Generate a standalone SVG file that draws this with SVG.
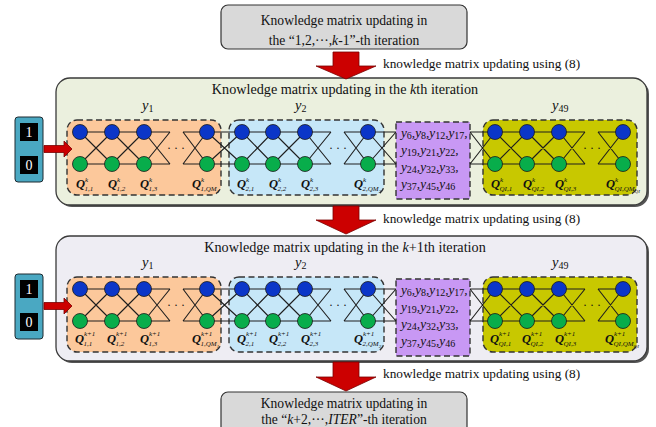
<svg xmlns="http://www.w3.org/2000/svg" width="656" height="427" viewBox="0 0 656 427">
<defs>
<style>
.t{font-family:"Liberation Serif","Times New Roman",serif;fill:#111}
.ti{font-size:13.6px}
.pti{font-size:14.2px}
.lab{font-size:13.3px}
.yl{font-family:"Liberation Serif","Times New Roman",serif;font-style:italic;font-size:14.5px;fill:#111}
.ys{font-style:normal;font-size:10px}
.pt{font-family:"Liberation Serif","Times New Roman",serif;font-style:italic;font-size:13.2px;fill:#111}
.q{font-family:"Liberation Serif","Times New Roman",serif;font-style:italic;font-weight:bold;font-size:12.5px;fill:#111}
.s{font-size:7px;font-weight:normal}
.s2{font-size:5px;font-weight:normal}
.ln{stroke:#1e1e1e;stroke-width:1.1;fill:none}
.bn{fill:#0b36c8;stroke:#1a1a1a;stroke-width:0.8}
.gn{fill:#08ad4b;stroke:#1a1a1a;stroke-width:0.8}
.db{stroke:#333;stroke-width:1.4;stroke-dasharray:6 3.5}
.arr{fill:#cc0000;stroke:#7a0000;stroke-width:0.8}
.box{fill:#d9d9d9;stroke:#333;stroke-width:1.2}
.dots{font-family:"Liberation Serif",serif;font-size:12px;fill:#111}
.w{font-family:"Liberation Serif","Times New Roman",serif;font-size:14px;fill:#fff}
</style>
</defs>

<g id="prevIter">
<rect class="box" x="221" y="5" width="246" height="44" rx="7"/>
<text class="t ti" x="344" y="25" text-anchor="middle">Knowledge matrix updating in</text>
<text class="t ti" x="344" y="45" text-anchor="middle">the “1,2,···,<tspan font-style="italic">k</tspan>-1”-th iteration</text>
</g>

<g id="panel1">
<rect x="58" y="80" width="591" height="127" rx="14" fill="#555"/>
<rect x="56" y="78" width="591" height="127" rx="14" fill="#ebf0de" stroke="#3a3a3a" stroke-width="1.3"/>
<text class="t pti" x="345" y="94" text-anchor="middle">Knowledge matrix updating in the <tspan font-style="italic">k</tspan>th iteration</text>
</g>

<g id="panel2">
<rect x="58" y="238" width="591" height="125" rx="14" fill="#555"/>
<rect x="56" y="236" width="591" height="125" rx="14" fill="#eeedf3" stroke="#3a3a3a" stroke-width="1.3"/>
<text class="t pti" x="345" y="252" text-anchor="middle">Knowledge matrix updating in the <tspan font-style="italic">k</tspan>+1th iteration</text>
</g>

<g id="k">
<g id="in1">
<rect x="15" y="117" width="28" height="65" rx="3" fill="#4aa8c2" stroke="#1e2a30" stroke-width="1"/>
<rect x="20" y="123" width="18" height="18" fill="#000"/>
<rect x="20" y="156" width="18" height="18" fill="#000"/>
<text class="w" x="29" y="137" text-anchor="middle">1</text>
<text class="w" x="29" y="170" text-anchor="middle">0</text>
</g>
<g id="y1box">
<rect class="db" x="67" y="120" width="154" height="75" rx="10" fill="#fcc89b"/>
<text class="yl" x="142" y="110">y<tspan class="ys" dy="2">1</tspan></text>
</g>
<g id="y2box">
<rect class="db" x="229" y="120" width="155" height="75" rx="10" fill="#c6e7f8"/>
<text class="yl" x="295" y="110">y<tspan class="ys" dy="2">2</tspan></text>
</g>
<g id="ymid">
<rect class="db" x="396" y="122" width="74" height="77" fill="#c898f4"/>
<text class="pt" x="401" y="137">y<tspan class="ys" dy="2">6</tspan><tspan dy="-2">,y</tspan><tspan class="ys" dy="2">8</tspan><tspan dy="-2">,y</tspan><tspan class="ys" dy="2">12</tspan><tspan dy="-2">,y</tspan><tspan class="ys" dy="2">17</tspan><tspan dy="-2">,</tspan></text>
<text class="pt" x="401" y="154">y<tspan class="ys" dy="2">19</tspan><tspan dy="-2">,y</tspan><tspan class="ys" dy="2">21</tspan><tspan dy="-2">,y</tspan><tspan class="ys" dy="2">22</tspan><tspan dy="-2">,</tspan></text>
<text class="pt" x="401" y="171">y<tspan class="ys" dy="2">24</tspan><tspan dy="-2">,y</tspan><tspan class="ys" dy="2">32</tspan><tspan dy="-2">,y</tspan><tspan class="ys" dy="2">33</tspan><tspan dy="-2">,</tspan></text>
<text class="pt" x="401" y="188">y<tspan class="ys" dy="2">37</tspan><tspan dy="-2">,y</tspan><tspan class="ys" dy="2">45</tspan><tspan dy="-2">,y</tspan><tspan class="ys" dy="2">46</tspan></text>
</g>
<g id="y49box">
<rect class="db" x="483" y="120" width="154" height="75" rx="10" fill="#c8c800"/>
<text class="yl" x="552" y="110">y<tspan class="ys" dy="2">49</tspan></text>
</g>
<g id="conn1">
<path class="ln" d="M80 132H170M80 164H170M183 132H242M183 164H242M242 132H331M242 164H331M344 132H396M344 164H396M470 132H585M470 164H585M598 132H623M598 164H623
M80 132L112 164M80 164L112 132M112 132L144 164M112 164L144 132M144 132L170 164M144 164L170 132M183 132L207 164M183 164L207 132M207 132L242 164M207 164L242 132M242 132L273 164M242 164L273 132M273 132L305 164M273 164L305 132M305 132L331 164M305 164L331 132M344 132L368 164M344 164L368 132M368 132L396 164M368 164L396 132M470 132L495 164M470 164L495 132M495 132L527 164M495 164L527 132M527 132L559 164M527 164L559 132M559 132L585 164M559 164L585 132M598 132L623 164M598 164L623 132"/>
<path class="arr" d="M44 145.5H64V141L72 149L64 157V152.5H44Z"/>
</g>
<g id="nodes1">
<text class="dots" x="176" y="152" text-anchor="middle">· · ·</text>
<text class="dots" x="338" y="152" text-anchor="middle">· · ·</text>
<text class="dots" x="592" y="152" text-anchor="middle">· · ·</text>
<circle class="bn" cx="80" cy="132" r="7.5"/><circle class="gn" cx="80" cy="164" r="7.5"/>
<circle class="bn" cx="112" cy="132" r="7.5"/><circle class="gn" cx="112" cy="164" r="7.5"/>
<circle class="bn" cx="144" cy="132" r="7.5"/><circle class="gn" cx="144" cy="164" r="7.5"/>
<circle class="bn" cx="207" cy="132" r="7.5"/><circle class="gn" cx="207" cy="164" r="7.5"/>
<circle class="bn" cx="242" cy="132" r="7.5"/><circle class="gn" cx="242" cy="164" r="7.5"/>
<circle class="bn" cx="273" cy="132" r="7.5"/><circle class="gn" cx="273" cy="164" r="7.5"/>
<circle class="bn" cx="305" cy="132" r="7.5"/><circle class="gn" cx="305" cy="164" r="7.5"/>
<circle class="bn" cx="368" cy="132" r="7.5"/><circle class="gn" cx="368" cy="164" r="7.5"/>
<circle class="bn" cx="495" cy="132" r="7.5"/><circle class="gn" cx="495" cy="164" r="7.5"/>
<circle class="bn" cx="527" cy="132" r="7.5"/><circle class="gn" cx="527" cy="164" r="7.5"/>
<circle class="bn" cx="559" cy="132" r="7.5"/><circle class="gn" cx="559" cy="164" r="7.5"/>
<circle class="bn" cx="623" cy="132" r="7.5"/><circle class="gn" cx="623" cy="164" r="7.5"/>
</g>
<g id="qlabels1">
<text class="q" x="76" y="188">Q<tspan class="s" x="85" y="182">k</tspan><tspan class="s" x="84.5" y="191">1,1</tspan></text>
<text class="q" x="108" y="188">Q<tspan class="s" x="117" y="182">k</tspan><tspan class="s" x="116.5" y="191">1,2</tspan></text>
<text class="q" x="140" y="188">Q<tspan class="s" x="149" y="182">k</tspan><tspan class="s" x="148.5" y="191">1,3</tspan></text>
<text class="q" x="192" y="188">Q<tspan class="s" x="201" y="182">k</tspan><tspan class="s" x="200.5" y="191">1,QM</tspan><tspan class="s2" y="193">1</tspan></text>
<text class="q" x="237" y="188">Q<tspan class="s" x="246" y="182">k</tspan><tspan class="s" x="245.5" y="191">2,1</tspan></text>
<text class="q" x="269" y="188">Q<tspan class="s" x="278" y="182">k</tspan><tspan class="s" x="277.5" y="191">2,2</tspan></text>
<text class="q" x="301" y="188">Q<tspan class="s" x="310" y="182">k</tspan><tspan class="s" x="309.5" y="191">2,3</tspan></text>
<text class="q" x="354" y="188">Q<tspan class="s" x="363" y="182">k</tspan><tspan class="s" x="362.5" y="191">2,QM</tspan><tspan class="s2" y="193">2</tspan></text>
<text class="q" x="491" y="188">Q<tspan class="s" x="500" y="182">k</tspan><tspan class="s" x="499.5" y="191">QI,1</tspan></text>
<text class="q" x="523" y="188">Q<tspan class="s" x="532" y="182">k</tspan><tspan class="s" x="531.5" y="191">QI,2</tspan></text>
<text class="q" x="555" y="188">Q<tspan class="s" x="564" y="182">k</tspan><tspan class="s" x="563.5" y="191">QI,3</tspan></text>
<text class="q" x="606" y="188">Q<tspan class="s" x="615" y="182">k</tspan><tspan class="s" x="614.5" y="191">QI,QM</tspan><tspan class="s2" y="193">QI</tspan></text>
</g>
</g>

<g id="k1" transform="translate(0,157)">
<g id="in2">
<rect x="15" y="117" width="28" height="65" rx="3" fill="#4aa8c2" stroke="#1e2a30" stroke-width="1"/>
<rect x="20" y="123" width="18" height="18" fill="#000"/>
<rect x="20" y="156" width="18" height="18" fill="#000"/>
<text class="w" x="29" y="137" text-anchor="middle">1</text>
<text class="w" x="29" y="170" text-anchor="middle">0</text>
</g>
<g id="y1box2">
<rect class="db" x="67" y="120" width="154" height="75" rx="10" fill="#fcc89b"/>
<text class="yl" x="142" y="110">y<tspan class="ys" dy="2">1</tspan></text>
</g>
<g id="y2box2">
<rect class="db" x="229" y="120" width="155" height="75" rx="10" fill="#c6e7f8"/>
<text class="yl" x="295" y="110">y<tspan class="ys" dy="2">2</tspan></text>
</g>
<g id="ymid2">
<rect class="db" x="396" y="122" width="74" height="77" fill="#c898f4"/>
<text class="pt" x="401" y="137">y<tspan class="ys" dy="2">6</tspan><tspan dy="-2">,y</tspan><tspan class="ys" dy="2">8</tspan><tspan dy="-2">,y</tspan><tspan class="ys" dy="2">12</tspan><tspan dy="-2">,y</tspan><tspan class="ys" dy="2">17</tspan><tspan dy="-2">,</tspan></text>
<text class="pt" x="401" y="154">y<tspan class="ys" dy="2">19</tspan><tspan dy="-2">,y</tspan><tspan class="ys" dy="2">21</tspan><tspan dy="-2">,y</tspan><tspan class="ys" dy="2">22</tspan><tspan dy="-2">,</tspan></text>
<text class="pt" x="401" y="171">y<tspan class="ys" dy="2">24</tspan><tspan dy="-2">,y</tspan><tspan class="ys" dy="2">32</tspan><tspan dy="-2">,y</tspan><tspan class="ys" dy="2">33</tspan><tspan dy="-2">,</tspan></text>
<text class="pt" x="401" y="188">y<tspan class="ys" dy="2">37</tspan><tspan dy="-2">,y</tspan><tspan class="ys" dy="2">45</tspan><tspan dy="-2">,y</tspan><tspan class="ys" dy="2">46</tspan></text>
</g>
<g id="y49box2">
<rect class="db" x="483" y="120" width="154" height="75" rx="10" fill="#c8c800"/>
<text class="yl" x="552" y="110">y<tspan class="ys" dy="2">49</tspan></text>
</g>
<g id="conn2">
<path class="ln" d="M80 132H170M80 164H170M183 132H242M183 164H242M242 132H331M242 164H331M344 132H396M344 164H396M470 132H585M470 164H585M598 132H623M598 164H623
M80 132L112 164M80 164L112 132M112 132L144 164M112 164L144 132M144 132L170 164M144 164L170 132M183 132L207 164M183 164L207 132M207 132L242 164M207 164L242 132M242 132L273 164M242 164L273 132M273 132L305 164M273 164L305 132M305 132L331 164M305 164L331 132M344 132L368 164M344 164L368 132M368 132L396 164M368 164L396 132M470 132L495 164M470 164L495 132M495 132L527 164M495 164L527 132M527 132L559 164M527 164L559 132M559 132L585 164M559 164L585 132M598 132L623 164M598 164L623 132"/>
<path class="arr" d="M44 145.5H64V141L72 149L64 157V152.5H44Z"/>
</g>
<g id="nodes2">
<text class="dots" x="176" y="152" text-anchor="middle">· · ·</text>
<text class="dots" x="338" y="152" text-anchor="middle">· · ·</text>
<text class="dots" x="592" y="152" text-anchor="middle">· · ·</text>
<circle class="bn" cx="80" cy="132" r="7.5"/><circle class="gn" cx="80" cy="164" r="7.5"/>
<circle class="bn" cx="112" cy="132" r="7.5"/><circle class="gn" cx="112" cy="164" r="7.5"/>
<circle class="bn" cx="144" cy="132" r="7.5"/><circle class="gn" cx="144" cy="164" r="7.5"/>
<circle class="bn" cx="207" cy="132" r="7.5"/><circle class="gn" cx="207" cy="164" r="7.5"/>
<circle class="bn" cx="242" cy="132" r="7.5"/><circle class="gn" cx="242" cy="164" r="7.5"/>
<circle class="bn" cx="273" cy="132" r="7.5"/><circle class="gn" cx="273" cy="164" r="7.5"/>
<circle class="bn" cx="305" cy="132" r="7.5"/><circle class="gn" cx="305" cy="164" r="7.5"/>
<circle class="bn" cx="368" cy="132" r="7.5"/><circle class="gn" cx="368" cy="164" r="7.5"/>
<circle class="bn" cx="495" cy="132" r="7.5"/><circle class="gn" cx="495" cy="164" r="7.5"/>
<circle class="bn" cx="527" cy="132" r="7.5"/><circle class="gn" cx="527" cy="164" r="7.5"/>
<circle class="bn" cx="559" cy="132" r="7.5"/><circle class="gn" cx="559" cy="164" r="7.5"/>
<circle class="bn" cx="623" cy="132" r="7.5"/><circle class="gn" cx="623" cy="164" r="7.5"/>
</g>
<g id="qlabels2">
<text class="q" x="75" y="186">Q<tspan class="s" x="84" y="179">k+1</tspan><tspan class="s" x="83.5" y="189">1,1</tspan></text>
<text class="q" x="107" y="186">Q<tspan class="s" x="116" y="179">k+1</tspan><tspan class="s" x="115.5" y="189">1,2</tspan></text>
<text class="q" x="140" y="186">Q<tspan class="s" x="149" y="179">k+1</tspan><tspan class="s" x="148.5" y="189">1,3</tspan></text>
<text class="q" x="192" y="186">Q<tspan class="s" x="201" y="179">k+1</tspan><tspan class="s" x="200.5" y="189">1,QM</tspan><tspan class="s2" y="191">1</tspan></text>
<text class="q" x="237" y="186">Q<tspan class="s" x="246" y="179">k+1</tspan><tspan class="s" x="245.5" y="189">2,1</tspan></text>
<text class="q" x="269" y="186">Q<tspan class="s" x="278" y="179">k+1</tspan><tspan class="s" x="277.5" y="189">2,2</tspan></text>
<text class="q" x="301" y="186">Q<tspan class="s" x="310" y="179">k+1</tspan><tspan class="s" x="309.5" y="189">2,3</tspan></text>
<text class="q" x="354" y="186">Q<tspan class="s" x="363" y="179">k+1</tspan><tspan class="s" x="362.5" y="189">2,QM</tspan><tspan class="s2" y="191">2</tspan></text>
<text class="q" x="490" y="186">Q<tspan class="s" x="499" y="179">k+1</tspan><tspan class="s" x="498.5" y="189">QI,1</tspan></text>
<text class="q" x="522" y="186">Q<tspan class="s" x="531" y="179">k+1</tspan><tspan class="s" x="530.5" y="189">QI,2</tspan></text>
<text class="q" x="555" y="186">Q<tspan class="s" x="564" y="179">k+1</tspan><tspan class="s" x="563.5" y="189">QI,3</tspan></text>
<text class="q" x="605" y="186">Q<tspan class="s" x="614" y="179">k+1</tspan><tspan class="s" x="613.5" y="189">QI,QM</tspan><tspan class="s2" y="191">QI</tspan></text>
</g>
</g>

<g id="nextIter">
<rect class="box" x="221" y="392" width="246" height="44" rx="7"/>
<text class="t ti" x="344" y="408" text-anchor="middle">Knowledge matrix updating in</text>
<text class="t ti" x="344" y="424" text-anchor="middle">the “<tspan font-style="italic">k</tspan>+2,···,<tspan font-style="italic">ITER</tspan>”-th iteration</text>
</g>

<g id="arrows">
<path class="arr" d="M333 52H359V66H376L346 79L316 66H333Z"/>
<path class="arr" d="M333 206H359V220H376L346 234L316 220H333Z"/>
<path class="arr" d="M333 362H359V377H376L346 391L316 377H333Z"/>
<text class="t lab" x="383" y="68">knowledge matrix updating using (8)</text>
<text class="t lab" x="383" y="223">knowledge matrix updating using (8)</text>
<text class="t lab" x="383" y="378">knowledge matrix updating using (8)</text>
</g>
</svg>
